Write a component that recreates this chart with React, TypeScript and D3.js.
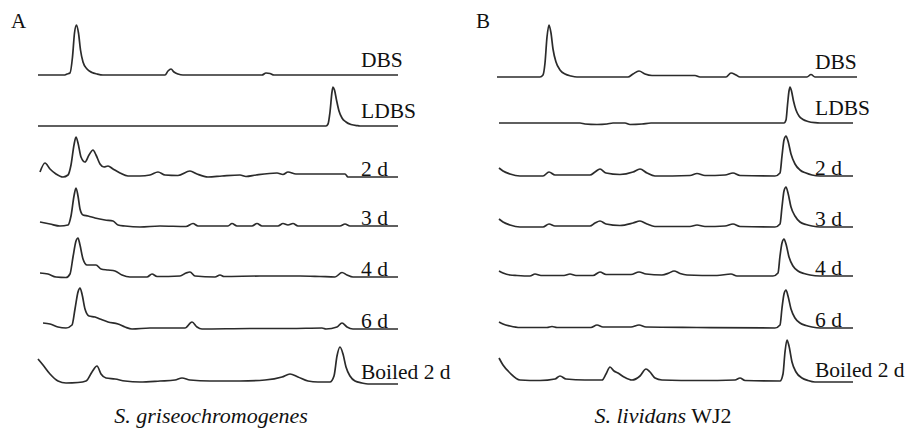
import { useEffect, useRef } from "react";
import * as d3 from "d3";

// Row labels (top to bottom)
const rowLabels = ["DBS", "LDBS", "2 d", "3 d", "4 d", "6 d", "Boiled 2 d"];
const panelLetters = ["A", "B"];
const strainA = "S. griseochromogenes";
const strainB = "S. lividans";
const strainBSuffix = " WJ2";

// Traces: [retention time (min), signal]
// Panel A - S. griseochromogenes
const aDBS = [[0, 0], [2.6, 0], [2.9, 1], [3.2, 2], [3.45, 18], [3.65, 42], [3.85, 50], [4.05, 42], [4.25, 25], [4.5, 13], [4.9, 6], [5.4, 2.5], [5.9, 1], [6.5, 0], [12.7, 0], [13.0, 4], [13.3, 6], [13.6, 3], [14.0, 1], [14.5, 0], [22.4, 0], [22.8, 2], [23.2, 1.5], [23.6, 0], [36, 0]];
const aLDBS = [[0, 0], [28.8, 0], [29.0, 2], [29.2, 14], [29.4, 34], [29.5, 39], [29.65, 36], [29.85, 26], [30.1, 15], [30.4, 8], [30.8, 4], [31.3, 1.5], [32.0, 0.3], [32.3, 0], [36, 0]];
const a2d = [[0.2, 5], [0.7, 14], [1.2, 8], [1.8, 3], [2.5, 0], [3.0, 2], [3.3, 12], [3.6, 32], [3.8, 40], [4.0, 34], [4.3, 20], [4.7, 15], [5.1, 22], [5.5, 27], [5.8, 22], [6.2, 13], [6.6, 10], [7.0, 11], [7.5, 8], [8.2, 4], [9.0, 1], [10.2, 1], [11.2, 2], [12.0, 5], [12.7, 2], [14.0, 1.5], [15.2, 6], [15.9, 3], [17.0, 0], [18.4, 1], [20.2, 2], [20.8, 0.5], [21.8, 2], [23.9, 4], [24.5, 2.5], [25.0, 5], [25.8, 3], [28.2, 3], [30.7, 3], [31.0, 0], [36, 0]];
const a3d = [[0.2, 4], [1.2, 2], [2.2, 0], [3.0, 1], [3.3, 10], [3.6, 30], [3.8, 38], [4.0, 30], [4.2, 17], [4.5, 11], [5.0, 10], [5.7, 8], [6.7, 6], [7.5, 5], [8.0, 1], [8.7, 0], [10.2, -1], [12.2, 0], [14.8, -0.5], [15.5, 2.5], [16.0, 0], [19.0, 0], [19.4, 2.5], [19.9, 0], [21.4, 0], [21.9, 2.5], [22.4, 0], [24.0, 0], [24.5, 2.5], [25.0, 1], [25.5, 2.5], [26.0, 0], [30.2, 0], [30.7, 2], [31.2, 0], [36, 0]];
const a4d = [[0.2, 4], [1.0, 3], [1.8, 0], [2.8, -0.5], [3.2, 3], [3.5, 20], [3.8, 36], [4.0, 39], [4.2, 32], [4.5, 18], [4.9, 12], [5.4, 12], [5.8, 12], [6.3, 8], [7.0, 7], [7.7, 6], [8.4, 2], [9.2, 0], [10.9, 0], [11.4, 3], [11.9, 0.5], [14.2, 1], [14.8, 4], [15.2, 5], [15.7, 1], [17.7, 0], [18.2, 2], [18.6, 0.5], [22.2, 1], [26.2, 1], [28.2, 0.5], [29.7, 0], [30.4, 4.5], [30.9, 2], [31.5, 0], [36, 0]];
const a6d = [[0.5, 6], [1.2, 5], [2.0, 2], [2.8, 1], [3.4, 4], [3.7, 20], [4.0, 37], [4.2, 41], [4.4, 35], [4.7, 20], [5.1, 13], [5.7, 12], [6.2, 10], [7.0, 7], [8.0, 5], [8.7, 2], [9.4, 0], [11.2, 1], [14.7, 1], [15.4, 7], [15.9, 2], [16.4, 0], [21.2, 0.5], [25.2, 0.5], [28.4, 1], [28.8, 0], [29.9, 2], [30.4, 6], [30.9, 2], [31.5, 0], [36, 0]];
const aBoiled = [[0, 25], [0.5, 19], [1.2, 10], [2.0, 3], [2.8, 1], [4.0, 1.5], [4.8, 3], [5.4, 12], [5.9, 18], [6.3, 10], [6.8, 6], [7.7, 5], [8.7, 3], [10.2, 2], [12.2, 3], [13.7, 4], [14.4, 6], [15.2, 4], [17.2, 3], [20.2, 3], [22.7, 4], [24.4, 7], [25.2, 10], [26.0, 7], [27.0, 3], [28.0, 2], [29.2, 2], [29.6, 8], [29.9, 28], [30.2, 37], [30.5, 30], [30.8, 17], [31.2, 8], [31.7, 3], [32.4, 1], [33.0, 0], [36, 0]];

// Panel B - S. lividans WJ2
const bDBS = [[0, 0], [4.3, 0], [4.6, 2], [4.8, 14], [5.0, 40], [5.2, 52], [5.4, 44], [5.6, 28], [5.9, 15], [6.3, 7], [6.8, 3], [7.4, 1], [8.0, 0], [13.1, 0], [13.6, 3], [14.2, 6], [14.8, 3], [15.5, 1.5], [19.8, 1.5], [20.3, 0], [22.9, 0], [23.4, 4], [23.9, 2], [24.3, 0], [31.0, 0], [31.4, 2.5], [31.8, 0], [36, 0]];
const bLDBS = [[0.2, 0], [8.3, 0], [8.8, -1], [10.0, -1.5], [11.0, -1], [11.6, 0], [12.8, 0], [13.3, -1.5], [14.5, -1], [15.4, 0], [28.7, 0], [28.9, 3], [29.05, 18], [29.2, 32], [29.3, 36], [29.45, 32], [29.65, 22], [29.9, 13], [30.2, 7], [30.6, 3.5], [31.1, 1.5], [31.8, 0.3], [32.3, 0], [35.6, 0]];
const b2d = [[0.2, 8], [0.6, 5], [1.3, 2], [2.3, 0], [4.6, 0], [5.2, 4], [5.8, 1], [9.3, 1], [9.8, 4], [10.3, 7], [10.9, 3], [12.3, 1.5], [13.6, 4], [14.3, 7], [15.0, 3], [15.8, 0], [19.3, 0.5], [20.0, 2.5], [20.8, 0.5], [22.8, 1], [23.6, 3], [24.3, 0.5], [27.8, 0], [28.3, 3], [28.5, 20], [28.7, 36], [28.9, 40], [29.1, 35], [29.4, 22], [29.8, 12], [30.3, 6], [30.9, 3], [31.5, 1], [32.3, 0], [35.6, 0]];
const b3d = [[0.2, 8], [0.6, 5], [1.3, 2], [2.3, 0], [4.6, 0], [5.2, 3], [5.8, 1], [9.3, 1], [9.8, 4], [10.3, 6], [10.9, 3], [12.3, 1.5], [13.6, 4], [14.3, 6], [15.0, 3], [15.8, 0.5], [19.3, 0.5], [20.0, 2], [20.8, 0.5], [22.8, 1], [23.6, 3], [24.3, 0.5], [27.8, 0], [28.3, 3], [28.5, 20], [28.7, 36], [28.9, 40], [29.1, 34], [29.4, 20], [29.8, 11], [30.3, 5], [30.9, 2.5], [31.5, 1], [32.3, 0], [35.6, 0]];
const b4d = [[0.2, 5], [0.6, 3], [1.3, 1], [2.0, 0.5], [3.3, 0], [3.8, 2], [4.4, 0.5], [6.7, 0.5], [7.3, 2], [7.9, 0.5], [9.6, 0.5], [10.3, 4], [10.9, 1.5], [13.4, 1.5], [14.2, 4], [14.9, 2], [16.5, 1], [17.2, 3], [17.7, 5], [18.3, 2.5], [19.0, 1], [22.0, 0.5], [23.4, 2], [24.0, 0], [27.6, 0], [28.1, 3], [28.3, 20], [28.5, 33], [28.7, 37], [28.9, 32], [29.2, 19], [29.6, 10], [30.1, 5], [30.7, 2.5], [31.3, 1], [32.3, 0], [35.6, 0]];
const b6d = [[0.2, 6], [0.6, 4], [1.3, 2], [2.3, 0.5], [5.0, 0.5], [5.5, 1.5], [6.0, 0.5], [9.4, 0.5], [10.0, 3], [10.6, 1], [13.4, 1], [14.2, 3], [14.9, 1], [20.0, 0.5], [27.8, 0], [28.3, 3], [28.5, 20], [28.7, 34], [28.9, 38], [29.1, 32], [29.4, 19], [29.8, 10], [30.3, 5], [30.9, 2.5], [31.5, 1], [32.3, 0], [35.6, 0]];
const bBoiled = [[0.2, 24], [0.6, 17], [1.3, 9], [2.3, 2], [4.3, 1.5], [5.8, 3], [6.3, 6], [6.9, 3], [8.8, 2], [10.5, 2], [10.9, 8], [11.3, 15], [11.7, 11], [12.1, 9], [12.7, 5], [13.5, 2], [14.3, 6], [14.9, 13], [15.3, 10], [15.8, 4], [16.5, 2], [20.3, 1.5], [23.8, 2], [24.3, 4], [24.8, 1.5], [28.3, 1], [28.6, 8], [28.8, 30], [29.0, 42], [29.2, 36], [29.5, 20], [29.9, 10], [30.5, 4], [31.1, 1.5], [31.8, 0], [35.6, 0]];

const panelA = [aDBS, aLDBS, a2d, a3d, a4d, a6d, aBoiled];
const panelB = [bDBS, bLDBS, b2d, b3d, b4d, b6d, bBoiled];

export default function App() {
  const ref = useRef<SVGSVGElement>(null);

  useEffect(() => {
    if (!ref.current) return;
    const svg = d3.select(ref.current);
    svg.selectAll("*").remove();

    const font = "Liberation Serif, Times New Roman, Times, DejaVu Serif, serif";

    const panels = [
      { traces: panelA, x0: 38, rows: [75, 126, 177, 226, 277, 329, 384], labelX: 361, letterX: 11, captionX: 211 },
      { traces: panelB, x0: 497, rows: [77, 123, 176, 227, 276, 328, 382], labelX: 815, letterX: 476, captionX: 663 },
    ];
    // text baseline offset above each trace baseline
    const labelLift = [8, 8, 1, 1, 1, 1, 5];

    panels.forEach((p, pi) => {
      const x = d3.scaleLinear().domain([0, 36]).range([p.x0, p.x0 + 360]);

      p.traces.forEach((pts, i) => {
        const base = p.rows[i];
        const y = d3.scaleLinear().domain([0, 50]).range([base, base - 50]);
        const line = d3
          .line<number[]>()
          .x((d) => x(d[0]))
          .y((d) => y(d[1]))
          .curve(d3.curveMonotoneX);

        svg
          .append("path")
          .attr("d", line(pts as number[][]))
          .attr("fill", "none")
          .attr("stroke", "#2b2b2b")
          .attr("stroke-width", 1.7)
          .attr("stroke-linejoin", "round");

        svg
          .append("text")
          .attr("x", p.labelX)
          .attr("y", base - labelLift[i])
          .style("font-family", font)
          .style("font-size", "21.5px")
          .attr("fill", "#111")
          .text(rowLabels[i]);
      });

      svg
        .append("text")
        .attr("x", p.letterX)
        .attr("y", 28)
        .style("font-family", font)
        .style("font-size", "21px")
        .attr("fill", "#111")
        .text(panelLetters[pi]);

      const cap = svg
        .append("text")
        .attr("x", p.captionX)
        .attr("y", 423)
        .attr("text-anchor", "middle")
        .style("font-family", font)
        .style("font-size", "22px")
        .attr("fill", "#111");
      if (pi === 0) {
        cap.append("tspan").attr("font-style", "italic").text(strainA);
      } else {
        cap.append("tspan").attr("font-style", "italic").text(strainB);
        cap.append("tspan").text(strainBSuffix);
      }
    });
  }, []);

  return (
    <svg
      ref={ref}
      width={909}
      height={430}
      style={{ position: "absolute", left: 0, top: 0, background: "#fff" }}
    />
  );
}
